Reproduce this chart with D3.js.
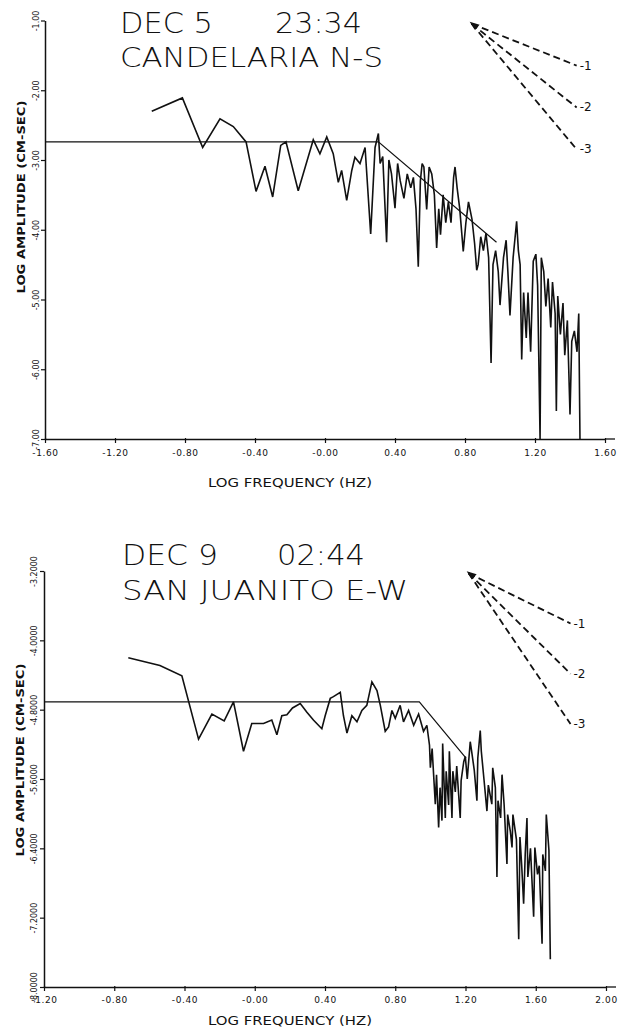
<!DOCTYPE html>
<html><head><meta charset="utf-8">
<script src="https://cdn.jsdelivr.net/npm/d3@7"></script>
<style>
body{margin:0;background:#fff}
svg{display:block;background:#fff}
text{fill:#111}
</style>
</head><body>
<svg id="c" width="621" height="1029"></svg>
<script>
// ---------- DATA ----------
// Panel 1: DEC 5 23:34, CANDELARIA N-S
const topTitle1 = ["DEC 5", "23:34"];
const topTitle2 = "CANDELARIA N-S";
const topXTicks = [-1.6, -1.2, -0.8, -0.4, 0.0, 0.4, 0.8, 1.2, 1.6];
const topXLabels = ["-1.60", "-1.20", "-0.80", "-0.40", "-0.00", "0.40", "0.80", "1.20", "1.60"];
const topYTicks = [-1, -2, -3, -4, -5, -6, -7];
const topYLabels = ["-1.00", "-2.00", "-3.00", "-4.00", "-5.00", "-6.00", "-7.00"];
const topFreq = [-0.990,-0.815,-0.699,-0.600,-0.524,-0.451,-0.394,-0.343,-0.299,-0.253,-0.223,-0.153,-0.067,-0.029,0.010,0.047,0.076,0.095,0.124,0.153,0.171,0.200,0.229,0.261,0.286,0.305,
  0.315,0.330,0.352,0.365,0.380,0.400,0.415,0.430,0.451,0.470,0.490,0.505,0.520,0.533,0.545,0.555,0.565,0.581,0.595,0.610,0.625,0.638,0.650,0.660,0.675,0.690,0.705,0.720,0.735,0.743,0.755,0.770,0.790,0.805,0.820,0.840,0.855,0.867,0.875,0.890,0.905,0.920,0.935,0.949,0.960,0.975,0.990,1.000,1.020,1.035,1.045,1.057,1.075,1.095,1.105,1.115,1.124,1.135,1.150,1.160,1.175,1.190,1.205,1.215,1.229,1.236,1.250,1.262,1.275,1.290,1.300,1.315,1.322,1.330,1.345,1.360,1.370,1.385,1.400,1.410,1.425,1.440,1.450,1.457];
const topAmp = [-2.30,-2.11,-2.82,-2.41,-2.52,-2.74,-3.45,-3.09,-3.53,-2.79,-2.74,-3.44,-2.71,-2.91,-2.67,-2.91,-3.32,-3.15,-3.58,-3.15,-2.96,-3.05,-2.82,-4.06,-2.82,-2.62,
  -3.05,-2.95,-4.18,-3.00,-3.20,-3.69,-3.05,-3.30,-3.55,-3.20,-3.40,-3.25,-3.70,-4.53,-3.30,-3.05,-3.10,-3.71,-3.10,-3.20,-3.50,-4.26,-3.70,-4.07,-3.50,-3.90,-3.60,-3.90,-3.25,-3.10,-3.40,-3.70,-4.31,-3.90,-3.60,-3.85,-4.20,-4.58,-4.50,-4.10,-4.30,-4.05,-4.40,-5.91,-4.50,-4.30,-4.60,-5.08,-4.40,-4.15,-4.60,-5.23,-4.40,-3.88,-4.30,-4.50,-5.86,-4.90,-5.55,-4.90,-5.75,-4.45,-4.35,-4.80,-7.00,-4.40,-4.60,-5.10,-4.70,-5.40,-4.75,-5.20,-6.60,-4.95,-5.50,-5.05,-5.80,-5.30,-6.65,-5.60,-5.45,-5.75,-5.20,-7.00];
const topModelFreq = [-1.6, 0.305, 0.98];
const topModelAmp = [-2.74, -2.74, -4.18];

// Panel 2: DEC 9 02:44, SAN JUANITO E-W
const botTitle1 = ["DEC 9", "02:44"];
const botTitle2 = "SAN JUANITO E-W";
const botXTicks = [-1.2, -0.8, -0.4, 0.0, 0.4, 0.8, 1.2, 1.6, 2.0];
const botXLabels = ["-1.20", "-0.80", "-0.40", "-0.00", "0.40", "0.80", "1.20", "1.60", "2.00"];
const botYTicks = [-3.2, -4.0, -4.8, -5.6, -6.4, -7.2, -8.0];
const botYLabels = ["-3.2000", "-4.0000", "-4.8000", "-5.6000", "-6.4000", "-7.2000", "-8.0000"];
const botFreq = [-0.72,-0.54,-0.415,-0.32,-0.244,-0.174,-0.121,-0.064,-0.017,0.05,0.097,0.126,0.154,0.183,0.215,0.259,0.297,0.334,0.382,0.401,0.43,0.448,0.487,0.505,0.525,0.553,0.582,0.61,0.638,0.667,0.696,0.715,0.743,0.762,0.781,0.80,0.828,0.847,0.876,0.905,0.933,0.961,0.98,
  0.995,1.0,1.01,1.028,1.035,1.047,1.055,1.066,1.07,1.085,1.09,1.104,1.108,1.123,1.128,1.142,1.15,1.17,1.175,1.19,1.199,1.21,1.227,1.235,1.25,1.265,1.27,1.284,1.29,1.305,1.322,1.33,1.35,1.355,1.37,1.379,1.385,1.40,1.408,1.42,1.436,1.44,1.455,1.465,1.47,1.49,1.503,1.51,1.52,1.531,1.54,1.55,1.555,1.57,1.588,1.595,1.61,1.62,1.636,1.64,1.655,1.66,1.675,1.683];
const botAmp = [-4.20,-4.29,-4.41,-5.14,-4.85,-4.93,-4.71,-5.28,-4.96,-4.96,-4.92,-5.09,-4.87,-4.86,-4.78,-4.73,-4.83,-4.92,-5.02,-4.87,-4.67,-4.65,-4.60,-4.87,-5.07,-4.87,-4.94,-4.81,-4.75,-4.48,-4.58,-4.75,-5.05,-5.00,-4.81,-4.90,-4.75,-4.94,-4.81,-4.98,-4.85,-5.05,-4.98,
  -5.21,-5.47,-5.25,-5.89,-5.55,-6.16,-5.70,-6.08,-5.19,-6.05,-5.51,-5.90,-5.28,-6.05,-5.51,-5.75,-5.45,-6.05,-5.62,-5.40,-5.34,-5.60,-5.17,-5.28,-5.50,-5.85,-5.36,-5.04,-5.28,-5.60,-5.97,-5.67,-5.89,-5.47,-5.70,-6.73,-5.85,-6.05,-5.55,-5.90,-6.58,-6.01,-6.20,-6.39,-6.01,-6.30,-7.45,-6.27,-6.60,-7.04,-6.47,-6.05,-6.73,-6.40,-7.19,-6.39,-6.70,-6.60,-7.50,-6.47,-6.66,-6.01,-6.42,-7.68];
const botModelFreq = [-1.2, 0.937, 1.203];
const botModelAmp = [-4.71, -4.71, -5.36];

// Slope reference lines (drawn with the panel scales)
const slopes = [-1, -2, -3];
const slopeLabels = ["-1", "-2", "-3"];
const topSlopeOrigin = [0.838, -1.047];
const botSlopeOrigin = [1.218, -3.226];
const topSlopeRun = 0.6;
const botSlopeRun = 0.58;

// ---------- DRAW ----------
const svg = d3.select("#c");
const FONT = "'DejaVu Sans', 'Liberation Sans', sans-serif";

function panel(o) {
  const g = svg.append("g");
  const x = d3.scaleLinear().domain(o.xDomain).range([o.left, o.right]);
  const y = d3.scaleLinear().domain(o.yDomain).range([o.bottom, o.top]);

  // titles
  g.append("text").attr("x", o.t1x[0]).attr("y", o.t1y).text(o.title1[0])
    .attr("textLength", o.t1w[0]).attr("lengthAdjust", "spacingAndGlyphs")
    .style("font-family", FONT).style("font-size", "28px").style("font-weight", 200);
  g.append("text").attr("x", o.t1x[1]).attr("y", o.t1y).text(o.title1[1])
    .attr("textLength", o.t1w[1]).attr("lengthAdjust", "spacingAndGlyphs")
    .style("font-family", FONT).style("font-size", "28px").style("font-weight", 200);
  g.append("text").attr("x", o.t2x).attr("y", o.t2y).text(o.title2)
    .attr("textLength", o.t2w).attr("lengthAdjust", "spacingAndGlyphs")
    .style("font-family", FONT).style("font-size", "27px").style("font-weight", 200);

  // x axis
  const xa = g.append("g").attr("transform", `translate(0,${o.bottom})`)
    .call(d3.axisBottom(x).tickValues(o.xTicks).tickFormat((d, i) => o.xLabels[i])
      .tickSizeInner(4).tickSizeOuter(0).tickPadding(0));
  xa.select(".domain").attr("stroke", "#111").attr("stroke-width", 1.3);
  xa.selectAll(".tick line").attr("stroke", "#111").attr("stroke-width", 1.2).attr("y1", -1).attr("y2", 4);
  xa.selectAll(".tick text").attr("y", o.xLabelDy).attr("dy", 0)
    .style("font-family", FONT).style("font-size", "9px").style("letter-spacing", "0.6px").attr("fill", "#222");
  g.append("line").attr("x1", o.right).attr("x2", o.right + 10).attr("y1", o.bottom).attr("y2", o.bottom)
    .attr("stroke", "#111").attr("stroke-width", 1.3);

  // y axis
  const ya = g.append("g").attr("transform", `translate(${o.left},0)`)
    .call(d3.axisLeft(y).tickValues(o.yTicks).tickFormat((d, i) => o.yLabels[i])
      .tickSizeInner(4).tickSizeOuter(0));
  ya.select(".domain").attr("stroke", "#111").attr("stroke-width", 1.5);
  ya.selectAll(".tick line").attr("stroke", "#111").attr("stroke-width", 1.2);
  ya.selectAll(".tick text").attr("transform", "rotate(-90)").attr("x", 0).attr("y", -o.yLabelGap).attr("dy", 0)
    .style("text-anchor", "middle").style("font-family", FONT).style("font-size", "8px").attr("fill", "#222");

  // axis titles
  g.append("text").attr("transform", `translate(${o.yTitleX},${o.yTitleY}) rotate(-90)`)
    .attr("text-anchor", "middle").text("LOG AMPLITUDE (CM-SEC)")
    .attr("textLength", 193).attr("lengthAdjust", "spacingAndGlyphs")
    .style("font-family", FONT).style("font-size", "11px").style("font-weight", "bold");
  g.append("text").attr("x", 290).attr("y", o.xTitleY).attr("text-anchor", "middle")
    .text("LOG FREQUENCY (HZ)").attr("textLength", 164).attr("lengthAdjust", "spacingAndGlyphs")
    .style("font-family", FONT).style("font-size", "12px");

  // model line
  const line = d3.line().x(d => x(d[0])).y(d => y(d[1]));
  g.append("path").datum(o.mFreq.map((f, i) => [f, o.mAmp[i]]))
    .attr("d", line).attr("fill", "none").attr("stroke", "#111").attr("stroke-width", 1.2);

  // spectrum
  g.append("path").datum(o.freq.map((f, i) => [f, o.amp[i]]))
    .attr("d", line).attr("fill", "none").attr("stroke", "#111").attr("stroke-width", 1.6)
    .attr("stroke-linejoin", "miter").attr("stroke-miterlimit", 3);

  // slope reference lines
  const [f0, a0] = o.slopeOrigin;
  slopes.forEach((s, i) => {
    const f1 = f0 + o.slopeRun, a1 = a0 + s * o.slopeRun;
    g.append("line").attr("x1", x(f0)).attr("y1", y(a0)).attr("x2", x(f1)).attr("y2", y(a1))
      .attr("stroke", "#111").attr("stroke-width", 1.8).attr("stroke-dasharray", "7,4");
    g.append("text").attr("x", x(f1) + 3).attr("y", y(a1) + 4).text(slopeLabels[i])
      .style("font-family", FONT).style("font-size", "12px");
  });
  const ax = x(f0), ay = y(a0);
  g.append("path").attr("d", `M${ax - 2},${ay - 2} L${ax + 8},${ay + 1} L${ax + 3},${ay + 6} Z`).attr("fill", "#111");
}

panel({
  xDomain: [-1.6, 1.6], yDomain: [-7, -1], left: 45, right: 605, top: 20.5, bottom: 439,
  xTicks: topXTicks, xLabels: topXLabels, yTicks: topYTicks, yLabels: topYLabels,
  freq: topFreq, amp: topAmp, mFreq: topModelFreq, mAmp: topModelAmp,
  slopeOrigin: topSlopeOrigin, slopeRun: topSlopeRun,
  title1: topTitle1, t1x: [120, 275], t1w: [93, 87], t1y: 33,
  title2: topTitle2, t2x: 120, t2w: 263, t2y: 67,
  xLabelDy: 17, yLabelGap: 6, yTitleX: 25, yTitleY: 197, xTitleY: 487
});

panel({
  xDomain: [-1.2, 2.0], yDomain: [-8, -3.2], left: 44, right: 606, top: 571, bottom: 987,
  xTicks: botXTicks, xLabels: botXLabels, yTicks: botYTicks, yLabels: botYLabels,
  freq: botFreq, amp: botAmp, mFreq: botModelFreq, mAmp: botModelAmp,
  slopeOrigin: botSlopeOrigin, slopeRun: botSlopeRun,
  title1: botTitle1, t1x: [122, 277], t1w: [96, 88], t1y: 565,
  title2: botTitle2, t2x: 122, t2w: 286, t2y: 600,
  xLabelDy: 16, yLabelGap: 7, yTitleX: 24, yTitleY: 760, xTitleY: 1025
});
</script>
</body></html>
